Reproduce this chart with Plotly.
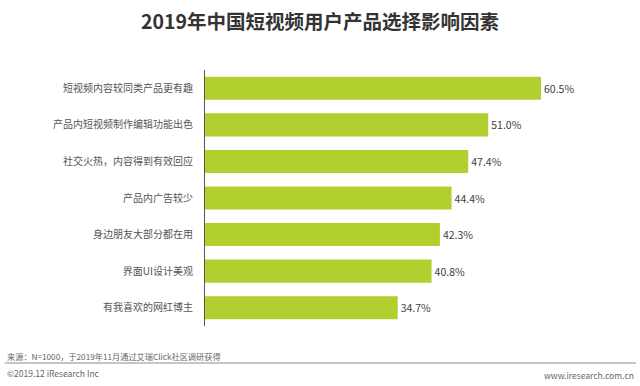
import plotly.graph_objects as go

categories = ["短视频内容较同类产品更有趣", "产品内短视频制作编辑功能出色", "社交火热，内容得到有效回应",
              "产品内广告较少", "身边朋友大部分都在用", "界面UI设计美观", "有我喜欢的网红博主"]
values = [60.5, 51.0, 47.4, 44.4, 42.3, 40.8, 34.7]
value_labels = ["60.5%", "51.0%", "47.4%", "44.4%", "42.3%", "40.8%", "34.7%"]

W, H = 640, 386
FONT = "Noto Sans CJK SC"

fig = go.Figure(go.Bar(
    y=categories, x=values, orientation="h",
    marker=dict(color="#b1cf2f", line=dict(width=0)),
    width=0.63,
    text=value_labels, textposition="outside",
    textfont=dict(size=10.5, color="#404040", family=FONT),
    cliponaxis=False,
))

fig.update_layout(
    width=W, height=H,
    margin=dict(l=0, r=0, t=0, b=0, autoexpand=False),
    paper_bgcolor="white", plot_bgcolor="white",
    showlegend=False,
    font=dict(family=FONT),
    xaxis=dict(domain=[205 / W, 621.5 / W], range=[0, 75], visible=False, fixedrange=True,
               automargin=False),
    yaxis=dict(domain=[1 - 326 / H, 1 - 70 / H], autorange="reversed", automargin=False,
               showline=True, linecolor="#555555", linewidth=1,
               ticks="", showgrid=False, zeroline=False,
               tickfont=dict(size=10, color="#555555", family=FONT),
               ticklabelstandoff=9),
    title=dict(text="<b>2019年中国短视频用户产品选择影响因素</b>",
               x=0.5, xanchor="center", y=1 - 22 / H, yanchor="middle", automargin=False,
               font=dict(size=19.5, color="#333333", family=FONT)),
    shapes=[dict(type="line", xref="paper", yref="paper",
                 x0=5 / W, x1=636 / W, y0=1 - 363 / H, y1=1 - 363 / H,
                 line=dict(color="#8a8a8a", width=1))],
    annotations=[
        dict(text="来源：N=1000，于2019年11月通过艾瑞Click社区调研获得", xref="paper", yref="paper",
             x=5 / W, y=1 - 356 / H, xanchor="left", yanchor="middle", showarrow=False,
             font=dict(size=8.2, color="#666666", family=FONT)),
        dict(text="©2019.12 iResearch Inc", xref="paper", yref="paper",
             x=5 / W, y=1 - 373 / H, xanchor="left", yanchor="middle", showarrow=False,
             font=dict(size=8.5, color="#666666", family=FONT)),
        dict(text="www.iresearch.com.cn", xref="paper", yref="paper",
             x=636 / W, y=1 - 375 / H, xanchor="right", yanchor="middle", showarrow=False,
             font=dict(size=8.5, color="#666666", family=FONT)),
    ],
)

fig.write_html("out.html", config={"displayModeBar": False, "staticPlot": True},
               post_script="document.body.style.margin='0';document.body.style.overflow='hidden';")
